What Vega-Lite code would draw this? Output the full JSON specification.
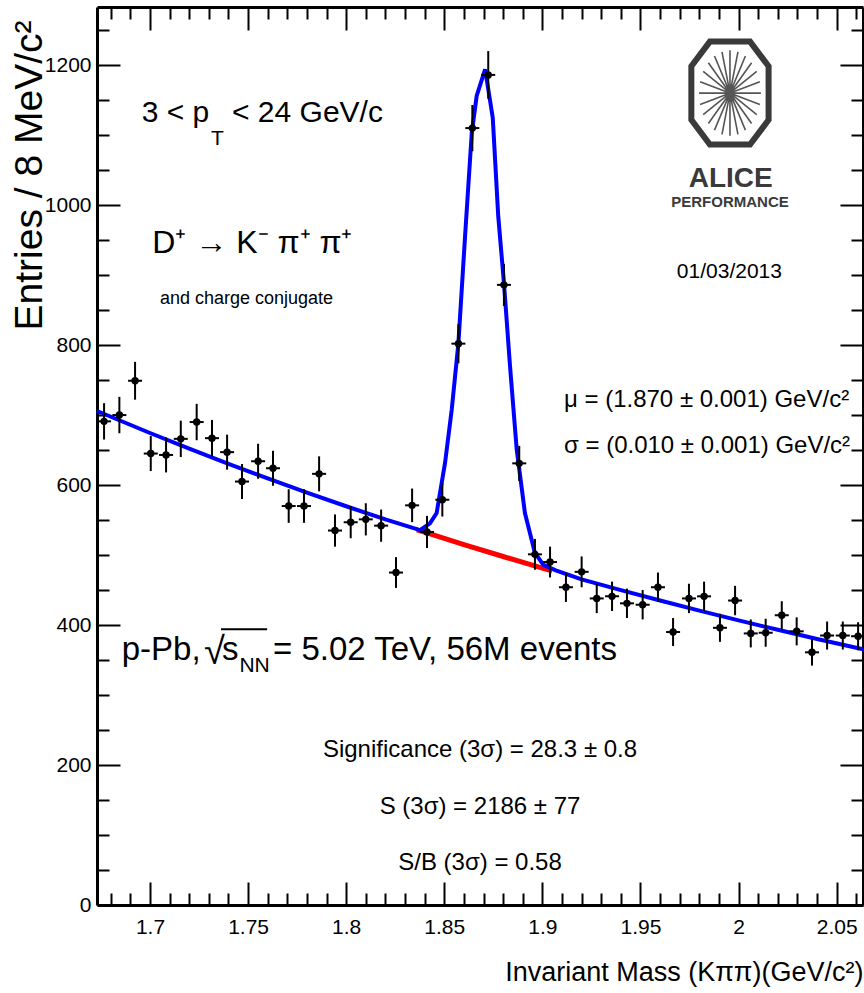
{
  "$schema": "https://vega.github.io/schema/vega-lite/v6.json",
  "width": 766,
  "height": 898,
  "autosize": {"type": "none"},
  "padding": {"left": 97, "top": 7, "right": 1, "bottom": 88},
  "background": "white",
  "config": {
    "view": {"stroke": null},
    "axis": {"grid": false, "domainColor": "black", "domainWidth": 3, "tickColor": "black", "tickWidth": 2, "labelColor": "black", "titleColor": "black", "labelFont": "Liberation Sans", "labelFontSize": 21, "labelFlush": false, "labelOverlap": false},
    "text": {"font": "Liberation Sans", "color": "black", "baseline": "alphabetic"}
  },
  "datasets": {
    "hist": [
      {"x": 1.6766, "y": 691, "lo": 665, "hi": 717},
      {"x": 1.6844, "y": 700, "lo": 674, "hi": 726},
      {"x": 1.6924, "y": 749, "lo": 722, "hi": 776},
      {"x": 1.7004, "y": 645, "lo": 620, "hi": 670},
      {"x": 1.7082, "y": 643, "lo": 618, "hi": 668},
      {"x": 1.7157, "y": 666, "lo": 640, "hi": 692},
      {"x": 1.7238, "y": 690, "lo": 664, "hi": 716},
      {"x": 1.7316, "y": 667, "lo": 641, "hi": 693},
      {"x": 1.7393, "y": 647, "lo": 622, "hi": 672},
      {"x": 1.7469, "y": 605, "lo": 580, "hi": 630},
      {"x": 1.7551, "y": 634, "lo": 609, "hi": 659},
      {"x": 1.7627, "y": 624, "lo": 599, "hi": 649},
      {"x": 1.7707, "y": 570, "lo": 546, "hi": 594},
      {"x": 1.7785, "y": 570, "lo": 546, "hi": 594},
      {"x": 1.7862, "y": 616, "lo": 591, "hi": 641},
      {"x": 1.7943, "y": 535, "lo": 512, "hi": 558},
      {"x": 1.8023, "y": 547, "lo": 524, "hi": 570},
      {"x": 1.81, "y": 551, "lo": 528, "hi": 574},
      {"x": 1.8178, "y": 542, "lo": 519, "hi": 565},
      {"x": 1.8254, "y": 475, "lo": 453, "hi": 497},
      {"x": 1.8336, "y": 571, "lo": 547, "hi": 595},
      {"x": 1.8412, "y": 533, "lo": 510, "hi": 556},
      {"x": 1.849, "y": 579, "lo": 555, "hi": 603},
      {"x": 1.8572, "y": 802, "lo": 774, "hi": 830},
      {"x": 1.8643, "y": 1110, "lo": 1077, "hi": 1143},
      {"x": 1.8724, "y": 1186, "lo": 1152, "hi": 1220},
      {"x": 1.8804, "y": 886, "lo": 856, "hi": 916},
      {"x": 1.8882, "y": 631, "lo": 606, "hi": 656},
      {"x": 1.8962, "y": 501, "lo": 479, "hi": 523},
      {"x": 1.9039, "y": 490, "lo": 468, "hi": 512},
      {"x": 1.912, "y": 454, "lo": 433, "hi": 475},
      {"x": 1.92, "y": 476, "lo": 454, "hi": 498},
      {"x": 1.9277, "y": 438, "lo": 417, "hi": 459},
      {"x": 1.9355, "y": 441, "lo": 420, "hi": 462},
      {"x": 1.9431, "y": 431, "lo": 410, "hi": 452},
      {"x": 1.9511, "y": 429, "lo": 408, "hi": 450},
      {"x": 1.9589, "y": 454, "lo": 433, "hi": 475},
      {"x": 1.9666, "y": 390, "lo": 370, "hi": 410},
      {"x": 1.9747, "y": 438, "lo": 417, "hi": 459},
      {"x": 1.9824, "y": 441, "lo": 420, "hi": 462},
      {"x": 1.9905, "y": 396, "lo": 376, "hi": 416},
      {"x": 1.9982, "y": 435, "lo": 414, "hi": 456},
      {"x": 2.0062, "y": 388, "lo": 368, "hi": 408},
      {"x": 2.0138, "y": 389, "lo": 369, "hi": 409},
      {"x": 2.022, "y": 414, "lo": 394, "hi": 434},
      {"x": 2.0296, "y": 391, "lo": 371, "hi": 411},
      {"x": 2.0374, "y": 361, "lo": 342, "hi": 380},
      {"x": 2.0451, "y": 385, "lo": 365, "hi": 405},
      {"x": 2.0531, "y": 385, "lo": 365, "hi": 405},
      {"x": 2.0609, "y": 384, "lo": 364, "hi": 404}
    ],
    "fit": [
      {"x": 1.673, "y": 705.8}, {"x": 1.7, "y": 674.4}, {"x": 1.72, "y": 652.0}, {"x": 1.74, "y": 630.4},
      {"x": 1.76, "y": 609.4}, {"x": 1.78, "y": 589.2}, {"x": 1.8, "y": 569.7}, {"x": 1.82, "y": 550.9},
      {"x": 1.8376, "y": 535.7}, {"x": 1.8427, "y": 545.3}, {"x": 1.8461, "y": 560}, {"x": 1.8504, "y": 632},
      {"x": 1.8538, "y": 708}, {"x": 1.8572, "y": 803}, {"x": 1.8606, "y": 956}, {"x": 1.864, "y": 1103},
      {"x": 1.8665, "y": 1156}, {"x": 1.8708, "y": 1194}, {"x": 1.8747, "y": 1125}, {"x": 1.8775, "y": 984},
      {"x": 1.8804, "y": 889}, {"x": 1.8835, "y": 770}, {"x": 1.8869, "y": 651}, {"x": 1.8911, "y": 560},
      {"x": 1.8962, "y": 503}, {"x": 1.9005, "y": 486}, {"x": 1.9068, "y": 478}, {"x": 1.92, "y": 465.3},
      {"x": 1.94, "y": 449.9}, {"x": 1.96, "y": 435.0}, {"x": 1.98, "y": 420.6}, {"x": 2.0, "y": 406.6},
      {"x": 2.02, "y": 393.2}, {"x": 2.04, "y": 380.1}, {"x": 2.0634, "y": 365.5}
    ],
    "bkg": [
      {"x": 1.836, "y": 536.1}, {"x": 1.84, "y": 532.6}, {"x": 1.86, "y": 515.0},
      {"x": 1.88, "y": 497.9}, {"x": 1.9, "y": 481.3}, {"x": 1.905, "y": 477.3}
    ]
  },
  "layer": [
    {
      "data": {"name": "bkg"},
      "mark": {"type": "line", "color": "#ff0000", "strokeWidth": 5},
      "encoding": {
        "x": {"field": "x", "type": "quantitative", "scale": {"domain": [1.673, 2.0634], "nice": false, "zero": false}, "axis": null},
        "y": {"field": "y", "type": "quantitative", "scale": {"domain": [0, 1283], "nice": false, "zero": false}, "axis": null}
      }
    },
    {
      "data": {"name": "fit"},
      "mark": {"type": "line", "color": "#0000ff", "strokeWidth": 4},
      "encoding": {
        "x": {"field": "x", "type": "quantitative", "scale": {"domain": [1.673, 2.0634], "nice": false, "zero": false},
          "axis": {"orient": "top", "values": [1.68, 1.69, 1.71, 1.72, 1.73, 1.74, 1.76, 1.77, 1.78, 1.79, 1.81, 1.82, 1.83, 1.84, 1.86, 1.87, 1.88, 1.89, 1.91, 1.92, 1.93, 1.94, 1.96, 1.97, 1.98, 1.99, 2.01, 2.02, 2.03, 2.04, 2.06], "tickSize": -12, "labels": false, "domain": false, "title": null}},
        "y": {"field": "y", "type": "quantitative", "scale": {"domain": [0, 1283], "nice": false, "zero": false},
          "axis": {"orient": "right", "values": [50, 100, 150, 250, 300, 350, 450, 500, 550, 650, 700, 750, 850, 900, 950, 1050, 1100, 1150, 1250], "tickSize": -12, "labels": false, "domain": false, "title": null}}
      }
    },
    {
      "data": {"name": "hist"},
      "mark": {"type": "rule", "color": "black", "strokeWidth": 2},
      "encoding": {
        "x": {"field": "x", "type": "quantitative", "scale": {"domain": [1.673, 2.0634], "nice": false, "zero": false},
          "axis": {"orient": "bottom", "values": [1.68, 1.69, 1.71, 1.72, 1.73, 1.74, 1.76, 1.77, 1.78, 1.79, 1.81, 1.82, 1.83, 1.84, 1.86, 1.87, 1.88, 1.89, 1.91, 1.92, 1.93, 1.94, 1.96, 1.97, 1.98, 1.99, 2.01, 2.02, 2.03, 2.04, 2.06], "tickSize": -12, "labels": false, "domain": false, "title": null}},
        "y": {"field": "lo", "type": "quantitative", "scale": {"domain": [0, 1283], "nice": false, "zero": false},
          "axis": {"orient": "left", "values": [50, 100, 150, 250, 300, 350, 450, 500, 550, 650, 700, 750, 850, 900, 950, 1050, 1100, 1150, 1250], "tickSize": -12, "labels": false, "domain": false, "title": null}},
        "y2": {"field": "hi"}
      }
    },
    {
      "data": {"name": "hist"},
      "mark": {"type": "tick", "orient": "horizontal", "color": "black", "size": 14, "thickness": 2, "opacity": 1},
      "encoding": {
        "x": {"field": "x", "type": "quantitative", "scale": {"domain": [1.673, 2.0634], "nice": false, "zero": false},
          "axis": {"orient": "top", "values": [1.7, 1.75, 1.8, 1.85, 1.9, 1.95, 2, 2.05], "tickSize": -23, "labels": false, "domain": true, "title": null}},
        "y": {"field": "y", "type": "quantitative", "scale": {"domain": [0, 1283], "nice": false, "zero": false},
          "axis": {"orient": "right", "values": [0, 200, 400, 600, 800, 1000, 1200], "tickSize": -23, "labels": false, "domain": true, "title": null}}
      }
    },
    {
      "data": {"name": "hist"},
      "mark": {"type": "point", "shape": "circle", "filled": true, "color": "black", "size": 55, "opacity": 1},
      "encoding": {
        "x": {"field": "x", "type": "quantitative", "scale": {"domain": [1.673, 2.0634], "nice": false, "zero": false},
          "axis": {"orient": "bottom", "values": [1.7, 1.75, 1.8, 1.85, 1.9, 1.95, 2, 2.05], "tickSize": -23, "labelPadding": 34, "labelExpr": "'' + datum.value", "domain": true,
            "title": "Invariant Mass (Kππ)(GeV/c²)", "titleFont": "Liberation Sans", "titleFontSize": 27, "titleFontWeight": "normal", "titleAnchor": "end", "titleAlign": "right", "titleBaseline": "alphabetic", "titleAngle": 0, "titleX": 766, "titleY": 75}},
        "y": {"field": "y", "type": "quantitative", "scale": {"domain": [0, 1283], "nice": false, "zero": false},
          "axis": {"orient": "left", "values": [0, 200, 400, 600, 800, 1000, 1200], "tickSize": -23, "labelPadding": 29, "labelExpr": "'' + datum.value", "domain": true,
            "title": "Entries / 8 MeV/c²", "titleFont": "Liberation Sans", "titleFontSize": 39, "titleFontWeight": "normal", "titleAnchor": "end", "titleAngle": 270, "titleAlign": "right", "titleBaseline": "alphabetic", "titleX": -56, "titleY": 13}}
      }
    },
    {
      "data": {"values": [{"x": 1.6958, "y": 1119, "t": "3 < p"}, {"x": 1.7418, "y": 1119, "t": "< 24 GeV/c"}]},
      "mark": {"type": "text", "align": "left", "fontSize": 30},
      "encoding": {
        "x": {"field": "x", "type": "quantitative", "axis": null},
        "y": {"field": "y", "type": "quantitative", "axis": null},
        "text": {"field": "t"}
      }
    },
    {
      "data": {"values": [{"x": 1.7311, "y": 1085.7, "t": "T"}]},
      "mark": {"type": "text", "align": "left", "fontSize": 21},
      "encoding": {
        "x": {"field": "x", "type": "quantitative", "axis": null},
        "y": {"field": "y", "type": "quantitative", "axis": null},
        "text": {"field": "t"}
      }
    },
    {
      "data": {"values": [{"x": 1.7522, "y": 931.4, "t": "D⁺ → K⁻ π⁺ π⁺"}]},
      "mark": {"type": "text", "align": "center", "fontSize": 32},
      "encoding": {
        "x": {"field": "x", "type": "quantitative", "axis": null},
        "y": {"field": "y", "type": "quantitative", "axis": null},
        "text": {"field": "t"}
      }
    },
    {
      "data": {"values": [{"x": 1.7492, "y": 858.6, "t": "and charge conjugate"}]},
      "mark": {"type": "text", "align": "center", "fontSize": 18},
      "encoding": {
        "x": {"field": "x", "type": "quantitative", "axis": null},
        "y": {"field": "y", "type": "quantitative", "axis": null},
        "text": {"field": "t"}
      }
    },
    {
      "data": {"values": [{"x": 1.9953, "y": 895.7, "t": "01/03/2013"}]},
      "mark": {"type": "text", "align": "center", "fontSize": 21},
      "encoding": {
        "x": {"field": "x", "type": "quantitative", "axis": null},
        "y": {"field": "y", "type": "quantitative", "axis": null},
        "text": {"field": "t"}
      }
    },
    {
      "data": {"values": [{"x": 1.996, "y": 1026, "t": "ALICE"}]},
      "mark": {"type": "text", "align": "center", "fontSize": 28, "fontWeight": "bold", "color": "#3a3a3a"},
      "encoding": {
        "x": {"field": "x", "type": "quantitative", "axis": null},
        "y": {"field": "y", "type": "quantitative", "axis": null},
        "text": {"field": "t"}
      }
    },
    {
      "data": {"values": [{"x": 1.9956, "y": 996.7, "t": "PERFORMANCE"}]},
      "mark": {"type": "text", "align": "center", "fontSize": 15, "fontWeight": "bold", "color": "#3a3a3a"},
      "encoding": {
        "x": {"field": "x", "type": "quantitative", "axis": null},
        "y": {"field": "y", "type": "quantitative", "axis": null},
        "text": {"field": "t"}
      }
    },
    {
      "data": {"values": [{"x": 1.9956, "y": 1160}]},
      "mark": {"type": "point", "shape": "M-0.39,-1L0.39,-1L0.75,-0.52L0.75,0.52L0.39,1L-0.39,1L-0.75,0.52L-0.75,-0.52Z", "size": 10609, "filled": false, "stroke": "#3a3a3a", "strokeWidth": 6, "opacity": 1},
      "encoding": {
        "x": {"field": "x", "type": "quantitative", "axis": null},
        "y": {"field": "y", "type": "quantitative", "axis": null}
      }
    },
    {
      "data": {"values": [{"x": 1.9956, "y": 1160}]},
      "mark": {"type": "point", "shape": "M0.6,0L-0.6,0M0.58,0.22L-0.58,-0.22M0.52,0.42L-0.52,-0.42M0.42,0.59L-0.42,-0.59M0.3,0.72L-0.3,-0.72M0.155,0.8L-0.155,-0.8M0,0.83L0,-0.83M-0.155,0.8L0.155,-0.8M-0.3,0.72L0.3,-0.72M-0.42,0.59L0.42,-0.59M-0.52,0.42L0.52,-0.42M-0.58,0.22L0.58,-0.22", "size": 10609, "filled": false, "stroke": "#555555", "strokeWidth": 1.6, "opacity": 1},
      "encoding": {
        "x": {"field": "x", "type": "quantitative", "axis": null},
        "y": {"field": "y", "type": "quantitative", "axis": null}
      }
    },
    {
      "data": {"values": [{"x": 1.911, "y": 711.4, "t": "μ = (1.870 ± 0.001) GeV/c²"}, {"x": 1.911, "y": 645.7, "t": "σ = (0.010 ± 0.001) GeV/c²"}]},
      "mark": {"type": "text", "align": "left", "fontSize": 24},
      "encoding": {
        "x": {"field": "x", "type": "quantitative", "axis": null},
        "y": {"field": "y", "type": "quantitative", "axis": null},
        "text": {"field": "t"}
      }
    },
    {
      "data": {"values": [{"x": 1.8682, "y": 211.9, "t": "Significance (3σ) = 28.3 ± 0.8"}, {"x": 1.8682, "y": 130, "t": "S (3σ) = 2186 ± 77"}, {"x": 1.8682, "y": 50, "t": "S/B (3σ) = 0.58"}]},
      "mark": {"type": "text", "align": "center", "fontSize": 24},
      "encoding": {
        "x": {"field": "x", "type": "quantitative", "axis": null},
        "y": {"field": "y", "type": "quantitative", "axis": null},
        "text": {"field": "t"}
      }
    },
    {
      "data": {"values": [{"x": 1.6856, "y": 350, "t": "p-Pb,"}, {"x": 1.7367, "y": 350, "t": "s"}, {"x": 1.7627, "y": 350, "t": "= 5.02 TeV, 56M events"}]},
      "mark": {"type": "text", "align": "left", "fontSize": 33},
      "encoding": {
        "x": {"field": "x", "type": "quantitative", "axis": null},
        "y": {"field": "y", "type": "quantitative", "axis": null},
        "text": {"field": "t"}
      }
    },
    {
      "data": {"values": [{"x": 1.7275, "y": 345, "t": "√"}]},
      "mark": {"type": "text", "align": "left", "fontSize": 38},
      "encoding": {
        "x": {"field": "x", "type": "quantitative", "axis": null},
        "y": {"field": "y", "type": "quantitative", "axis": null},
        "text": {"field": "t"}
      }
    },
    {
      "data": {"values": [{"x": 1.7456, "y": 333.3, "t": "NN"}]},
      "mark": {"type": "text", "align": "left", "fontSize": 21},
      "encoding": {
        "x": {"field": "x", "type": "quantitative", "axis": null},
        "y": {"field": "y", "type": "quantitative", "axis": null},
        "text": {"field": "t"}
      }
    },
    {
      "data": {"values": [{"x": 1.7362, "x2": 1.7597, "y": 394}]},
      "mark": {"type": "rule", "color": "black", "strokeWidth": 2},
      "encoding": {
        "x": {"field": "x", "type": "quantitative", "axis": null},
        "x2": {"field": "x2"},
        "y": {"field": "y", "type": "quantitative", "axis": null}
      }
    }
  ],
  "resolve": {"axis": {"x": "independent", "y": "independent"}}
}
